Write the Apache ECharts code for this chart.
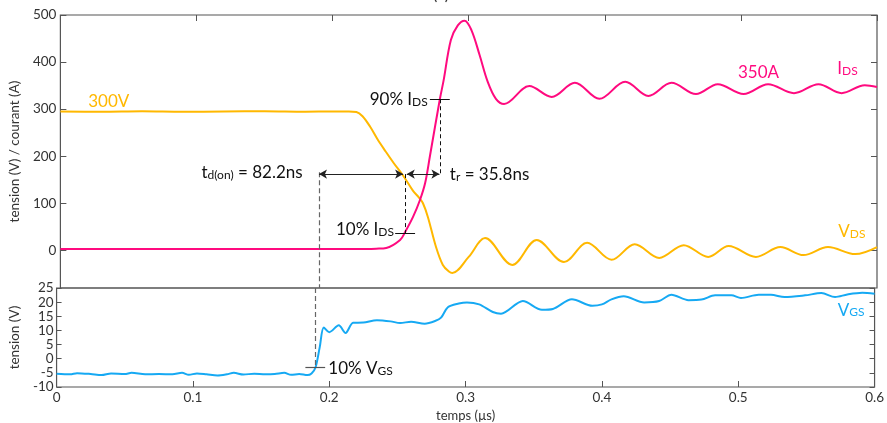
<!DOCTYPE html>
<html>
<head>
<meta charset="utf-8">
<script src="https://cdn.jsdelivr.net/npm/echarts@6/dist/echarts.min.js"></script>
<style>html,body{margin:0;padding:0;background:#fff}#c{width:887px;height:423px}</style>
</head>
<body>
<div id="c"></div>
<script>
// ---- data (time in µs) ----
const xTickLabels = [0, 0.1, 0.2, 0.3, 0.4, 0.5, 0.6];
const topYTicks = [0, 100, 200, 300, 400, 500];

const vdsTime = [0, 0.03, 0.06, 0.09, 0.12, 0.15, 0.18, 0.2, 0.212, 0.2175, 0.222, 0.2275, 0.233, 0.239, 0.245, 0.252, 0.259, 0.2635, 0.2664, 0.270, 0.276, 0.281, 0.2855, 0.288, 0.300, 0.312, 0.332, 0.350, 0.370, 0.387, 0.405, 0.422, 0.440, 0.458, 0.476, 0.491, 0.511, 0.529, 0.546, 0.564, 0.584, 0.6];
const vdsValues = [295, 294.5, 295.5, 294.5, 295, 295.5, 294.5, 295, 295, 294, 285, 263, 236, 210, 185, 158, 127, 112, 100, 71, 7, -31, -45, -48, -14, 26, -31, 22, -25, 16, -20, 13, -16, 11, -14, 9, -14, 7, -10, 7, -8, 7];

const idsTime = [0, 0.05, 0.1, 0.15, 0.2, 0.225, 0.232, 0.2394, 0.2496, 0.2533, 0.2591, 0.2642, 0.268, 0.2715, 0.2788, 0.2815, 0.2869, 0.292, 0.297, 0.302, 0.308, 0.314, 0.320, 0.326, 0.3445, 0.361, 0.378, 0.396, 0.415, 0.432, 0.449, 0.467, 0.483, 0.502, 0.520, 0.539, 0.557, 0.574, 0.591, 0.6];
const idsValues = [3, 3, 3, 3, 3, 3, 3.5, 5, 22, 39, 71, 107, 143, 200, 321, 360, 447, 478, 488, 468, 415, 358, 322, 311, 349, 326, 356, 322, 358, 328, 356, 332, 353, 332, 353, 334, 353, 334, 351, 347];

const vgsTime = [0, 0.01, 0.015, 0.025, 0.033, 0.04, 0.05, 0.055, 0.065, 0.075, 0.085, 0.092, 0.097, 0.103, 0.11, 0.118, 0.125, 0.13, 0.137, 0.145, 0.153, 0.16, 0.167, 0.172, 0.178, 0.184, 0.187, 0.19, 0.193, 0.196, 0.2, 0.207, 0.212, 0.2175, 0.225, 0.235, 0.245, 0.252, 0.26, 0.27, 0.278, 0.282, 0.287, 0.295, 0.301, 0.31, 0.32, 0.326, 0.342, 0.356, 0.364, 0.378, 0.393, 0.4, 0.407, 0.416, 0.431, 0.442, 0.451, 0.4635, 0.473, 0.483, 0.495, 0.502, 0.515, 0.524, 0.534, 0.549, 0.561, 0.571, 0.58, 0.591, 0.6];
const vgsValues = [-5.3, -5.5, -5.1, -5.4, -5.8, -5.2, -5.4, -5.0, -5.5, -5.4, -5.5, -5.0, -5.7, -5.2, -5.5, -5.9, -5.5, -5.0, -5.6, -5.3, -5.5, -5.4, -5.0, -5.7, -5.4, -5.8, -5.2, -3, 4, 11, 9.4, 11.8, 9.1, 12.7, 12.8, 13.6, 13.2, 12.6, 13.1, 12.4, 13.4, 14.5, 18.2, 19.5, 19.9, 19.2, 16.5, 15.9, 20.4, 17.3, 17.6, 21, 18.7, 19.2, 21, 22.1, 19.9, 20.4, 22.6, 20.7, 20.9, 22.4, 22.4, 21.5, 22.6, 22.6, 21.8, 22.4, 23.2, 21.8, 22.7, 23.3, 23];

const pairs = (xs, ys) => xs.map((x, i) => [x, ys[i]]);

// ---- styles ----
const C_VDS = '#FFB800', C_IDS = '#FF0A7F', C_VGS = '#16A9F3';
const AXIS = '#555', LBL = '#333';
const FONT = 'Lato';

// parts: array of [text, isSub]
function mp(coord, parts, color, size) {
  const sub = Math.round(size * 0.7);
  const formatter = parts.map(p => (p[1] ? '{s|' : '{m|') + p[0] + '}').join('');
  return {coord: coord, symbol: 'circle', symbolSize: 0.1, itemStyle: {color: 'rgba(0,0,0,0)'},
    label: {show: true, position: 'right', distance: 0, formatter: formatter,
      rich: {
        m: {fontSize: size, fontFamily: FONT, color: color, lineHeight: size + 4, verticalAlign: 'bottom'},
        s: {fontSize: sub, fontFamily: FONT, color: color, lineHeight: sub - 3, verticalAlign: 'bottom'}
      }}};
}
function seg(a, b, style, sa, sb) {
  return [{coord: a, symbol: sa || 'none', lineStyle: style}, {coord: b, symbol: sb || 'none'}];
}
const solidBlack = {color: '#111', width: 1, type: 'solid'};
const dashBlack = {color: '#111', width: 1, type: [4, 3]};
const dashGray = {color: '#666', width: 1.2, type: [5, 3]};
const arrowLine = {color: '#222', width: 1.2, type: 'solid'};
const noLine = {show: false, onZero: false};

const chart = echarts.init(document.getElementById('c'), null, {renderer: 'canvas'});
chart.setOption({
  animation: false,
  backgroundColor: '#fff',
  graphic: [{type: 'text', x: 441, y: -13, style: {text: '(a)', font: '16px Lato', fill: '#333', textAlign: 'center'}}],
  grid: [
    {left: 55, top: 15, width: 822, height: 273, show: true, borderColor: AXIS, borderWidth: 1.2, backgroundColor: 'transparent'},
    {left: 55, top: 288, width: 822, height: 102, show: true, borderColor: AXIS, borderWidth: 1.2, backgroundColor: 'transparent'}
  ],
  xAxis: [
    {gridIndex: 0, type: 'value', min: 0, max: 0.6, interval: 0.1, position: 'bottom',
      axisLine: noLine, axisTick: {show: false}, axisLabel: {show: false}, splitLine: {show: false}},
    {gridIndex: 0, type: 'value', min: 0, max: 0.6, interval: 0.1, position: 'top',
      axisLine: noLine, axisTick: {show: true, inside: true, length: 6, lineStyle: {color: AXIS}}, axisLabel: {show: false}, splitLine: {show: false}},
    {gridIndex: 1, type: 'value', min: 0, max: 0.6, interval: 0.1, position: 'bottom',
      name: 'temps (µs)', nameLocation: 'middle', nameGap: 22,
      nameTextStyle: {fontFamily: FONT, fontSize: 13, color: LBL},
      axisLine: noLine, axisTick: {show: true, inside: true, length: 6, lineStyle: {color: AXIS}},
      axisLabel: {show: true, margin: 4, fontFamily: FONT, fontSize: 13.5, color: LBL,
        customValues: xTickLabels, formatter: v => String(+v.toFixed(1))},
      splitLine: {show: false}}
  ],
  yAxis: [
    {gridIndex: 0, type: 'value', min: -80, max: 500, position: 'left',
      name: 'tension (V) / courant (A)', nameLocation: 'middle', nameGap: 29,
      nameTextStyle: {fontFamily: FONT, fontSize: 13.5, color: LBL},
      axisLine: noLine,
      axisTick: {show: true, inside: true, length: 6, customValues: topYTicks, lineStyle: {color: AXIS}},
      axisLabel: {show: true, margin: 4, fontFamily: FONT, fontSize: 13.5, color: LBL, customValues: topYTicks},
      splitLine: {show: false}},
    {gridIndex: 0, type: 'value', min: -80, max: 500, position: 'right',
      axisLine: noLine,
      axisTick: {show: true, inside: true, length: 6, customValues: topYTicks, lineStyle: {color: AXIS}},
      axisLabel: {show: false}, splitLine: {show: false}},
    {gridIndex: 1, type: 'value', min: -10, max: 25, interval: 5, position: 'left',
      name: 'tension (V)', nameLocation: 'middle', nameGap: 29,
      nameTextStyle: {fontFamily: FONT, fontSize: 13.5, color: LBL},
      axisLine: noLine,
      axisTick: {show: true, inside: true, length: 5, lineStyle: {color: AXIS}},
      axisLabel: {show: true, margin: 3, fontFamily: FONT, fontSize: 13.5, color: LBL, lineHeight: 13},
      splitLine: {show: false}},
    {gridIndex: 1, type: 'value', min: -10, max: 25, interval: 5, position: 'right',
      axisLine: noLine,
      axisTick: {show: true, inside: true, length: 5, lineStyle: {color: AXIS}},
      axisLabel: {show: false}, splitLine: {show: false}}
  ],
  series: [
    {name: 'VDS', type: 'line', xAxisIndex: 0, yAxisIndex: 0, data: pairs(vdsTime, vdsValues),
      smooth: 0.35, showSymbol: false, symbol: 'none', lineStyle: {color: C_VDS, width: 2}, itemStyle: {color: C_VDS}, z: 2,
      markLine: {silent: true, symbolSize: [7, 8], label: {show: false}, animation: false,
        data: [
          seg([0.19, 166], [0.19, -80], dashGray),
          seg([0.2533, 162], [0.2533, 37], dashBlack),
          seg([0.2788, 321], [0.2788, 162], dashBlack),
          seg([0.2715, 321], [0.2861, 321], solidBlack),
          seg([0.246, 37], [0.2606, 37], solidBlack),
          seg([0.19, 162], [0.2518, 162], arrowLine, 'arrow', 'arrow'),
          seg([0.2545, 162], [0.2785, 162], arrowLine, 'arrow', 'arrow')
        ]},
      markPoint: {silent: true, animation: false,
        data: [
          mp([0.0204, 321.5], [['300V', 0]], C_VDS, 17),
          mp([0.5715, 45], [['V', 0], ['DS', 1]], C_VDS, 17),
          mp([0.2272, 323.7], [['90% I', 0], ['DS', 1]], '#111', 17),
          mp([0.2024, 47.5], [['10% I', 0], ['DS', 1]], '#111', 17),
          mp([0.1036, 168.6], [['t', 0], ['d(on)', 1], [' = 82.2ns', 0]], '#111', 17),
          mp([0.2861, 166], [['t', 0], ['r', 1], [' = 35.8ns', 0]], '#111', 17)
        ]}},
    {name: 'IDS', type: 'line', xAxisIndex: 0, yAxisIndex: 0, data: pairs(idsTime, idsValues),
      smooth: 0.35, showSymbol: false, symbol: 'none', lineStyle: {color: C_IDS, width: 2}, itemStyle: {color: C_IDS}, z: 3,
      markPoint: {silent: true, animation: false,
        data: [
          mp([0.4978, 381], [['350A', 0]], C_IDS, 17),
          mp([0.5708, 389.5], [['I', 0], ['DS', 1]], C_IDS, 17)
        ]}},
    {name: 'VGS', type: 'line', xAxisIndex: 2, yAxisIndex: 2, data: pairs(vgsTime, vgsValues),
      smooth: 0.3, showSymbol: false, symbol: 'none', lineStyle: {color: C_VGS, width: 2}, itemStyle: {color: C_VGS}, z: 3,
      markLine: {silent: true, symbolSize: 6, label: {show: false}, animation: false,
        data: [
          seg([0.19, 25], [0.19, -3], dashGray),
          seg([0.1825, -3], [0.197, -3], {color: '#555', width: 1.2, type: 'solid'})
        ]},
      markPoint: {silent: true, animation: false,
        data: [
          mp([0.573, 17.9], [['V', 0], ['GS', 1]], C_VGS, 17),
          mp([0.1993, -2.8], [['10% V', 0], ['GS', 1]], '#111', 17)
        ]}}
  ]
});
</script>
</body>
</html>
